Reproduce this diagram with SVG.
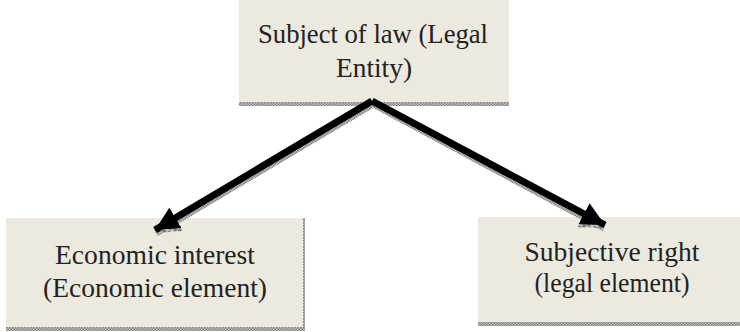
<svg xmlns="http://www.w3.org/2000/svg" width="740" height="332" viewBox="0 0 740 332">
<defs>
<pattern id="dots" width="3" height="3" patternUnits="userSpaceOnUse">
<rect width="3" height="3" fill="#c8c8c8"/>
<rect width="1.5" height="1.5" fill="#7a7a7a"/>
<rect x="1.5" y="1.5" width="1.5" height="1.5" fill="#7a7a7a"/>
</pattern>
<marker id="ah" viewBox="0 0 10 10" refX="10" refY="5" markerWidth="3.4" markerHeight="3.4" orient="auto" markerUnits="strokeWidth">
<path d="M0,0 L10,5 L0,10 Z" fill="#000"/>
</marker>
<marker id="ahs" viewBox="0 0 10 10" refX="10" refY="5" markerWidth="3.4" markerHeight="3.4" orient="auto" markerUnits="strokeWidth">
<path d="M0,0 L10,5 L0,10 Z" fill="url(#dots)"/>
</marker>
</defs>
<style>
.box{fill:#ECE9DF}
.sh{fill:url(#dots)}
.t{font-family:"Liberation Serif",serif;font-size:27px;fill:#222;text-anchor:middle}
.ln{stroke:#000;stroke-width:7;fill:none;marker-end:url(#ah)}
.lns{stroke:url(#dots);stroke-width:7;fill:none;marker-end:url(#ahs)}
</style>
<g id="node-top">
<rect class="sh" x="239" y="101" width="270" height="5"/>
<rect class="box" x="239" y="0" width="270" height="102"/>
<text class="t" x="373" y="43" textLength="230" lengthAdjust="spacingAndGlyphs">Subject of law (Legal</text>
<text class="t" x="374" y="77" textLength="76" lengthAdjust="spacingAndGlyphs">Entity)</text>
</g>
<g id="node-left">
<rect class="sh" x="6" y="326" width="298" height="5"/>
<rect class="sh" x="302" y="218" width="3" height="113"/>
<rect class="box" x="6" y="218" width="297" height="109"/>
<text class="t" x="155" y="264" textLength="200" lengthAdjust="spacingAndGlyphs">Economic interest</text>
<text class="t" x="155" y="297" textLength="224" lengthAdjust="spacingAndGlyphs">(Economic element)</text>
</g>
<g id="node-right">
<rect class="sh" x="478" y="321" width="262" height="5"/>
<rect class="box" x="478" y="217" width="262" height="105"/>
<text class="t" x="612" y="261" textLength="175" lengthAdjust="spacingAndGlyphs">Subjective right</text>
<text class="t" x="612" y="292" textLength="155" lengthAdjust="spacingAndGlyphs">(legal element)</text>
</g>
<g id="connectors">
<path class="lns" d="M373,104 L156,233"/>
<path class="lns" d="M373,104 L604,228"/>
<path class="ln" d="M372,101 L155,230"/>
<path class="ln" d="M372,101 L605,225"/>
</g>
</svg>
